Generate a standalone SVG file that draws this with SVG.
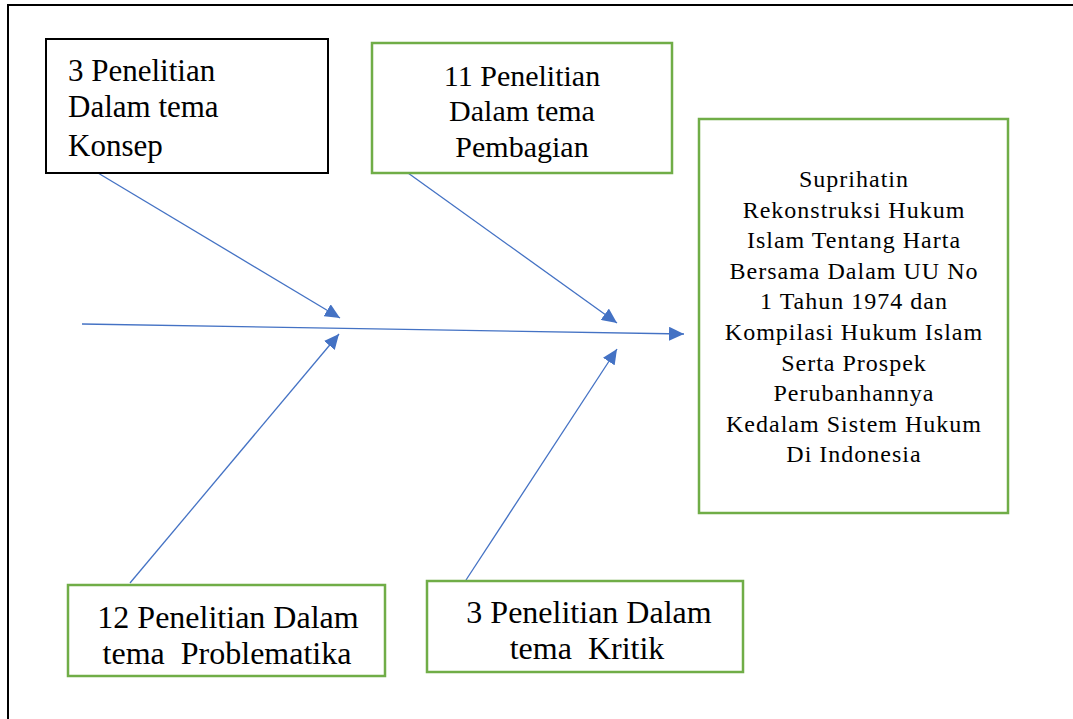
<svg xmlns="http://www.w3.org/2000/svg" width="1073" height="719" viewBox="0 0 1073 719">
<style>
  text { font-family: 'Liberation Serif', 'Times New Roman', serif; fill: #000; white-space: pre; }
  .blk { fill: #fff; stroke: #000; stroke-width: 2; }
  .grn { fill: #fff; stroke: #70AD47; stroke-width: 2.5; }
  .con { stroke: #4472C4; stroke-width: 1.3; fill: none; marker-end: url(#ah); }
</style>
<defs>
  <marker id="ah" viewBox="0 0 15 14" refX="15" refY="7" markerWidth="15" markerHeight="14" markerUnits="userSpaceOnUse" orient="auto">
    <path d="M0,0 L15,7 L0,14 z" fill="#4472C4"/>
  </marker>
</defs>
<rect width="1073" height="719" fill="#fff"/>
<path d="M8,730 V5 H1085" fill="none" stroke="#000" stroke-width="2"/>

<g id="connectors">
  <line class="con" x1="82" y1="324" x2="684" y2="334"/>
  <line class="con" x1="98" y1="173" x2="340" y2="318"/>
  <line class="con" x1="408" y1="173" x2="617" y2="323"/>
  <line class="con" x1="130" y1="583" x2="339" y2="334"/>
  <line class="con" x1="466" y1="580" x2="617" y2="349"/>
</g>

<g id="konsep" font-size="31">
  <rect class="blk" x="46" y="39" width="282" height="134"/>
  <text x="68" y="81">3 Penelitian</text>
  <text x="68" y="117">Dalam tema</text>
  <text x="68" y="156">Konsep</text>
</g>

<g id="pembagian" font-size="30" text-anchor="middle">
  <rect class="grn" x="372" y="43" width="300" height="130"/>
  <text x="522" y="86">11 Penelitian</text>
  <text x="522" y="121">Dalam tema</text>
  <text x="522" y="157">Pembagian</text>
</g>

<g id="judul">
  <rect class="grn" x="699" y="119" width="309" height="394"/>
  <g font-size="24" letter-spacing="1" text-anchor="middle">
    <text x="854" y="187">Suprihatin</text>
    <text x="854" y="218">Rekonstruksi Hukum</text>
    <text x="854" y="248">Islam Tentang Harta</text>
    <text x="854" y="279">Bersama Dalam UU No</text>
    <text x="854" y="309">1 Tahun 1974 dan</text>
    <text x="854" y="340">Kompilasi Hukum Islam</text>
    <text x="854" y="371">Serta Prospek</text>
    <text x="854" y="401">Perubanhannya</text>
    <text x="854" y="432">Kedalam Sistem Hukum</text>
    <text x="854" y="462">Di Indonesia</text>
  </g>
</g>

<g id="problematika" font-size="32" text-anchor="middle">
  <rect class="grn" x="68" y="585" width="317" height="91"/>
  <text x="228" y="628">12 Penelitian Dalam</text>
  <text x="227" y="664">tema  Problematika</text>
</g>

<g id="kritik" font-size="32" text-anchor="middle">
  <rect class="grn" x="427" y="581" width="316" height="91"/>
  <text x="589" y="623">3 Penelitian Dalam</text>
  <text x="587" y="659">tema  Kritik</text>
</g>
</svg>
